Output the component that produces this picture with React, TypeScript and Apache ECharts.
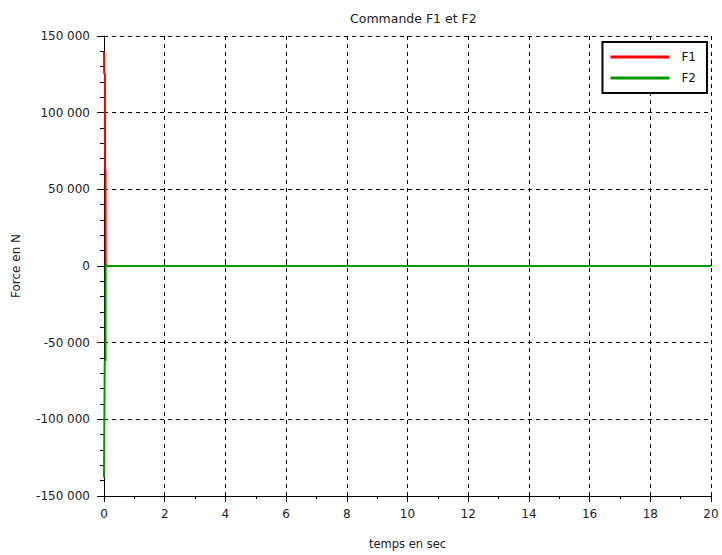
import React, { useEffect, useRef } from "react";
import * as echarts from "echarts";

// Control forces F1 and F2 over time (s, N)
const f1Time = [0, 0.005, 0.03, 0.035, 0.05, 0.055, 0.1, 20];
const f1Values = [140000, 126000, 125000, 63000, 62000, 0, 0, 0];
const f2Time = [0, 0.005, 0.02, 0.025, 0.05, 0.055, 0.07, 0.09, 20];
const f2Values = [-138000, -122000, -122000, -62000, -62000, 0, 1500, 0, 0];

const seriesNames = ["F1", "F2"];
const seriesColors = ["#ff0000", "#009a00"];

const pairs = (t: number[], v: number[]) => t.map((x, i) => [x, v[i]]);

const fmtThousands = (v: number) => {
  const s = Math.abs(v).toString().replace(/\B(?=(\d{3})+(?!\d))/g, " ");
  return (v < 0 ? "-" : "") + s;
};

const FONT = "DejaVu Sans, Verdana, sans-serif";

export default function App() {
  const ref = useRef<HTMLDivElement>(null);

  useEffect(() => {
    if (!ref.current) return;
    const chart = echarts.init(ref.current, undefined, { renderer: "svg" });
    const grid = { left: 104, right: 11, top: 36, bottom: 58 };
    chart.setOption({
      animation: false,
      backgroundColor: "#fff",
      textStyle: { fontFamily: FONT },
      title: {
        text: "Commande F1 et F2",
        left: 345,
        top: 7,
        textStyle: { fontSize: 12.5, fontWeight: "normal", color: "#222", fontFamily: FONT },
      },
      grid,
      legend: {
        right: 15,
        top: 42,
        orient: "vertical",
        backgroundColor: "#fff",
        borderColor: "#000",
        borderWidth: 2,
        borderRadius: 0,
        padding: [9, 11, 9, 8],
        itemWidth: 59,
        itemHeight: 3,
        itemGap: 9,
        icon: "rect",
        data: seriesNames,
        textStyle: { fontSize: 12, color: "#111", padding: [0, 0, 0, 7], fontFamily: FONT },
      },
      xAxis: [
        {
          type: "value",
          min: 0,
          max: 20,
          interval: 2,
          name: "temps en sec",
          nameLocation: "middle",
          nameGap: 42,
          nameTextStyle: { fontSize: 11.5, color: "#222" },
          axisLine: { show: true, onZero: false, lineStyle: { color: "#000", width: 1 } },
          axisTick: { show: true, inside: false, length: 6, lineStyle: { color: "#000" } },
          minorTick: { show: true, splitNumber: 2, length: 3, lineStyle: { color: "#000" } },
          axisLabel: { fontSize: 12, color: "#222", margin: 12 },
          splitLine: { show: true, lineStyle: { color: "#000", type: [4, 4], width: 1 } },
        },
        {
          type: "value",
          min: 0,
          max: 20,
          interval: 2,
          position: "bottom",
          axisLine: { show: false },
          axisTick: { show: true, inside: true, length: 7, lineStyle: { color: "#000" } },
          axisLabel: { show: false },
          splitLine: { show: false },
        },
      ],
      yAxis: {
        type: "value",
        min: -150000,
        max: 150000,
        interval: 50000,
        name: "Force en N",
        nameLocation: "middle",
        nameGap: 82,
        nameTextStyle: { fontSize: 12, color: "#222" },
        axisLine: { show: true, onZero: false, lineStyle: { color: "#000", width: 1 } },
        axisTick: { show: true, length: 7, lineStyle: { color: "#000" } },
        minorTick: { show: true, splitNumber: 5, length: 4, lineStyle: { color: "#000" } },
        axisLabel: { fontSize: 12, color: "#222", margin: 14, formatter: fmtThousands },
        splitLine: { show: true, lineStyle: { color: "#000", type: [4, 4], width: 1 } },
      },
      series: [
        {
          name: seriesNames[0],
          type: "line",
          data: pairs(f1Time, f1Values),
          showSymbol: false,
          color: seriesColors[0],
          lineStyle: { width: 2, color: seriesColors[0] },
        },
        {
          name: seriesNames[1],
          type: "line",
          data: pairs(f2Time, f2Values),
          showSymbol: false,
          color: seriesColors[1],
          lineStyle: { width: 2, color: seriesColors[1] },
        },
      ],
    });
    return () => chart.dispose();
  }, []);

  return (
    <div
      ref={ref}
      style={{ position: "absolute", left: 0, top: 0, width: 722, height: 555 }}
    />
  );
}
